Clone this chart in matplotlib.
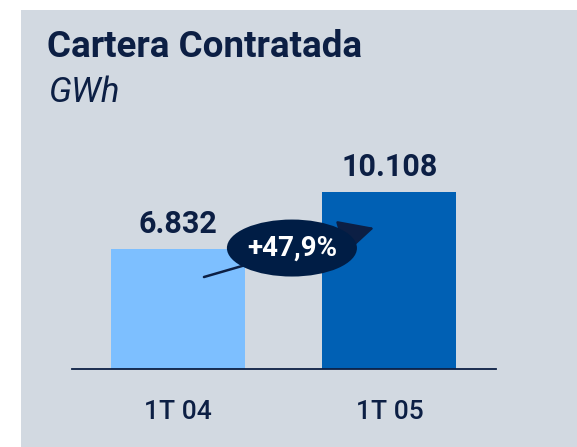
import matplotlib
matplotlib.use("Agg")
import matplotlib.pyplot as plt
from matplotlib.patches import Ellipse, Rectangle, FancyArrowPatch

categories = ["1T 04", "1T 05"]
values = [6832, 10108]
value_labels = ["6.832", "10.108"]
title = "Cartera Contratada"
subtitle = "GWh"
growth_label = "+47,9%"

NAVY = "#0c1f44"
BG = "#d2d9e1"
BAR_COLORS = ["#7dbfff", "#0060b4"]
FONT = ["Roboto", "DejaVu Sans"]

W, H = 577, 447
fig = plt.figure(figsize=(W / 100, H / 100), dpi=100)
fig.patch.set_facecolor("white")
fig.patches.append(Rectangle((21 / W, 0), 1 - 21 / W, 1 - 10 / H,
                             transform=fig.transFigure, facecolor=BG,
                             edgecolor="none", zorder=-5))

ax = fig.add_axes([72 / W, (H - 369) / H, (496 - 72) / W, (369 - 100) / H])
ax.set_facecolor("none")
x = list(range(len(categories)))
ax.bar(x, values, width=0.634, color=BAR_COLORS, zorder=2)
ax.set_xlim(-0.501, 1.504)
ax.set_ylim(0, 15340)
for s in ["top", "left", "right"]:
    ax.spines[s].set_visible(False)
ax.spines["bottom"].set_color(NAVY)
ax.spines["bottom"].set_linewidth(1.3)
ax.set_yticks([])
ax.set_xticks(x)
ax.set_xticklabels(categories, fontsize=19, color=NAVY, family=FONT, fontweight="medium")
ax.tick_params(axis="x", length=0, pad=22)

for xi, v, lab in zip(x, values, value_labels):
    ax.annotate(lab, (xi, v), xytext=(0, 7), textcoords="offset points",
                ha="center", va="bottom", fontsize=22, fontweight="bold",
                color=NAVY, family=FONT)

# growth arrow and ellipse (decoration)
arr = FancyArrowPatch((0.123, 5245), (0.927, 8050), arrowstyle="-|>,head_length=1.3,head_width=0.65",
                      mutation_scale=17, color=NAVY, linewidth=1.8, zorder=3,
                      shrinkA=0, shrinkB=0)
ax.add_patch(arr)
ell = Ellipse((0.539, 6898), 0.615, 3250, facecolor="#001d45", edgecolor="none", zorder=4)
ax.add_patch(ell)
ax.text(0.539, 6898, growth_label, ha="center", va="center", fontsize=20,
        fontweight="bold", color="white", family=FONT, zorder=5)

fig.text(47 / W, 1 - 47 / H, title, ha="left", va="center", fontsize=26.5,
         fontweight="bold", color=NAVY, family=FONT)
fig.text(48 / W, 1 - 92 / H, subtitle, ha="left", va="center", fontsize=25,
         style="italic", color=NAVY, family=FONT)

fig.savefig("out.png", dpi=100)
